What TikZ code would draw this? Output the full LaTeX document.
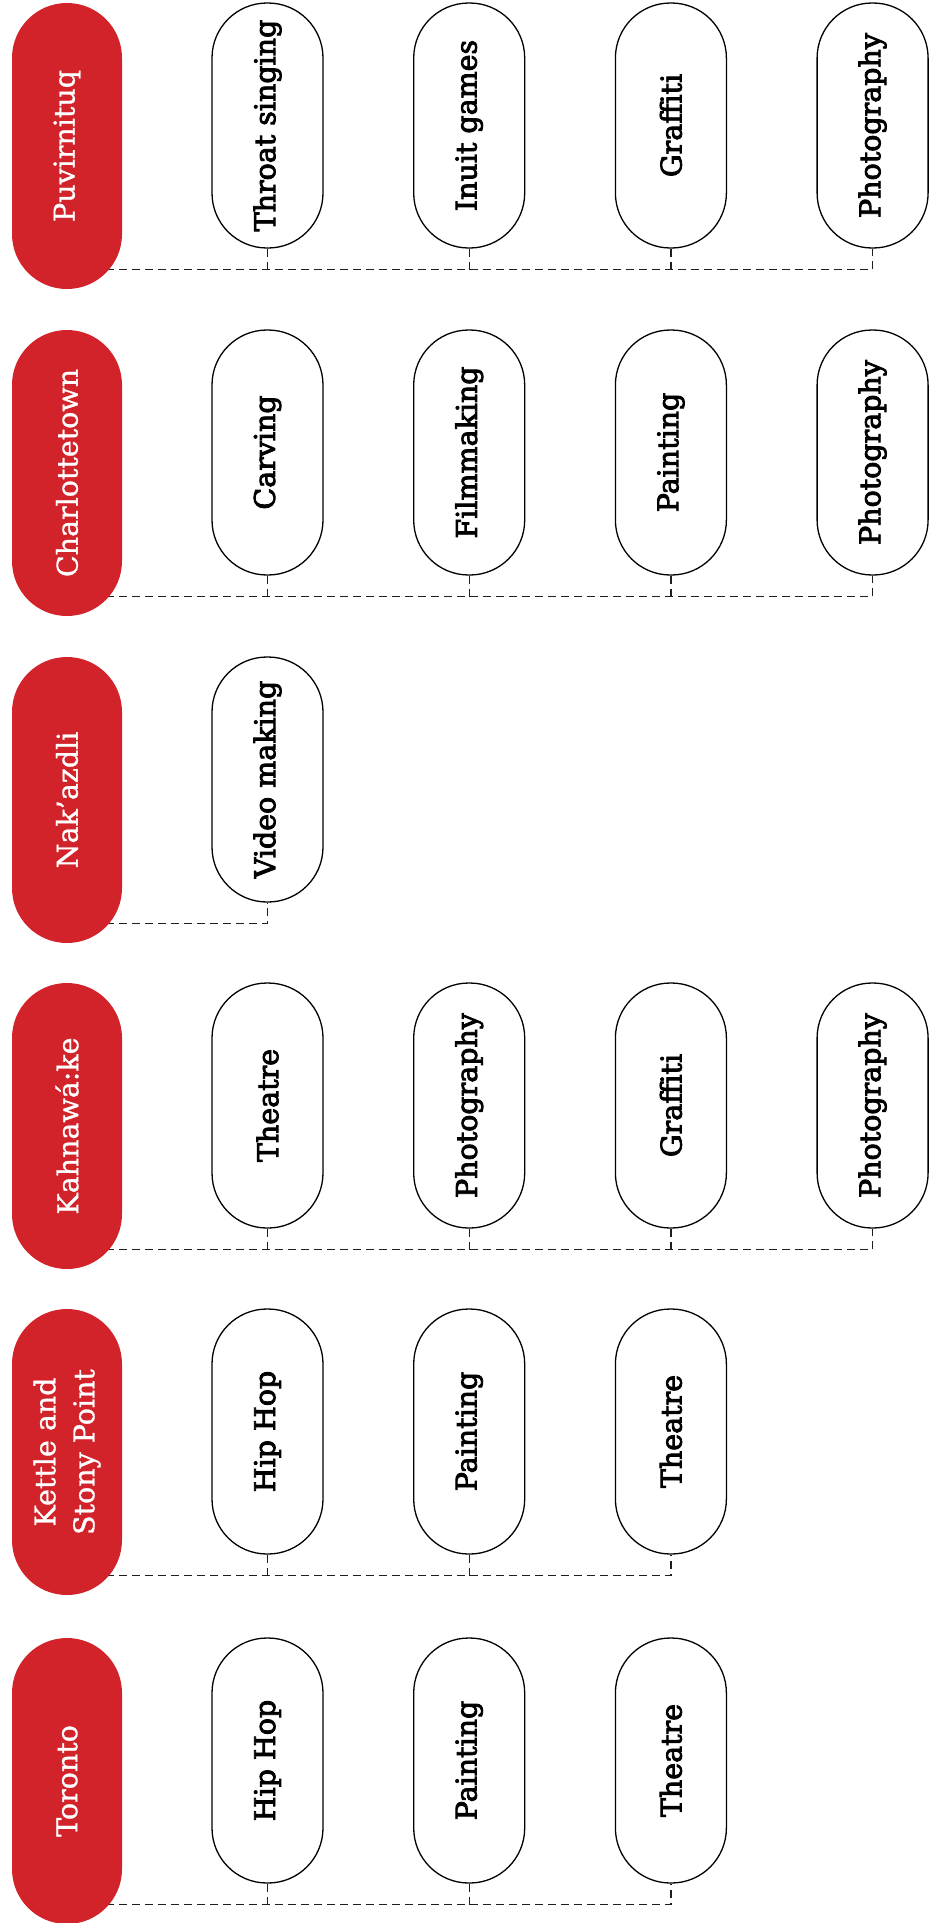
\documentclass[tikz,border=0pt]{standalone}
\usepackage{fontspec}
\setmainfont{DejaVu Serif}
\newfontfamily\boxfont[FakeBold=3]{DejaVu Serif}
\newfontfamily\cityfont[FakeBold=1]{DejaVu Serif}
\usetikzlibrary{calc}
\pgfdeclarelayer{bg}
\pgfsetlayers{bg,main}
\definecolor{cityred}{HTML}{D2232A}
\definecolor{conngray}{HTML}{1E1E1E}
\tikzset{
  city/.style={rectangle, rounded corners=55pt, fill=cityred, text=white,
    minimum width=110pt, minimum height=286pt, inner sep=0pt,
    font=\cityfont\fontsize{28.5}{39}\selectfont},
  act/.style={rectangle, rounded corners=55pt, draw=black, line width=1.3pt, fill=white,
    minimum width=111pt, minimum height=245pt, inner sep=0pt,
    font=\boxfont\fontsize{28.5}{38}\selectfont},
  conn/.style={draw=conngray, line width=1.3pt, dash pattern=on 8pt off 5pt},
}
\begin{document}
\begin{tikzpicture}[x=1pt, y=-1pt]
\useasboundingbox (0,0) rectangle (932,1923);

% Row 1: Puvirnituq
\node[city] (r1) at (67,146) {\rotatebox{90}{Puvirnituq}};
\node[act] (a1-1) at (267.5,125.5) {\rotatebox{90}{Throat singing}};
\node[act] (a1-2) at (469.2,125.5) {\rotatebox{90}{Inuit games}};
\node[act] (a1-3) at (670.9,125.5) {\rotatebox{90}{Graffiti}};
\node[act] (a1-4) at (872.6,125.5) {\rotatebox{90}{Photography}};

% Row 2: Charlottetown
\node[city] (r2) at (67,473) {\rotatebox{90}{Charlottetown}};
\node[act] (a2-1) at (267.5,452.5) {\rotatebox{90}{Carving}};
\node[act] (a2-2) at (469.2,452.5) {\rotatebox{90}{Filmmaking}};
\node[act] (a2-3) at (670.9,452.5) {\rotatebox{90}{Painting}};
\node[act] (a2-4) at (872.6,452.5) {\rotatebox{90}{Photography}};

% Row 3: Nak'azdli
\node[city] (r3) at (67,800) {\rotatebox{90}{Nak’azdli}};
\node[act] (a3-1) at (267.5,779.5) {\rotatebox{90}{Video making}};

% Row 4: Kahnawá:ke
\node[city] (r4) at (67,1126) {\rotatebox{90}{Kahnawá:ke}};
\node[act] (a4-1) at (267.5,1105.5) {\rotatebox{90}{Theatre}};
\node[act] (a4-2) at (469.2,1105.5) {\rotatebox{90}{Photography}};
\node[act] (a4-3) at (670.9,1105.5) {\rotatebox{90}{Graffiti}};
\node[act] (a4-4) at (872.6,1105.5) {\rotatebox{90}{Photography}};

% Row 5: Kettle and Stony Point
\node[city] (r5) at (67,1452) {\rotatebox{90}{\begin{tabular}{@{}c@{}}Kettle and\\Stony Point\end{tabular}}};
\node[act] (a5-1) at (267.5,1431.5) {\rotatebox{90}{Hip Hop}};
\node[act] (a5-2) at (469.2,1431.5) {\rotatebox{90}{Painting}};
\node[act] (a5-3) at (670.9,1431.5) {\rotatebox{90}{Theatre}};

% Row 6: Toronto
\node[city] (r6) at (67,1781) {\rotatebox{90}{Toronto}};
\node[act] (a6-1) at (267.5,1760.5) {\rotatebox{90}{Hip Hop}};
\node[act] (a6-2) at (469.2,1760.5) {\rotatebox{90}{Painting}};
\node[act] (a6-3) at (670.9,1760.5) {\rotatebox{90}{Theatre}};

% junction levels
\coordinate (j1) at ($(a1-1.south)+(0,21)$);
\coordinate (j2) at ($(a2-1.south)+(0,21)$);
\coordinate (j3) at ($(a3-1.south)+(0,21)$);
\coordinate (j4) at ($(a4-1.south)+(0,21)$);
\coordinate (j5) at ($(a5-1.south)+(0,21)$);
\coordinate (j6) at ($(a6-1.south)+(0,21)$);

\begin{pgfonlayer}{bg}
\draw[conn] (r1.center |- j1) -| (a1-4.south);
\foreach \k in {1,2,3} \draw[conn] (a1-\k.south) -- (a1-\k.south |- j1);
\draw[conn] (r2.center |- j2) -| (a2-4.south);
\foreach \k in {1,2,3} \draw[conn] (a2-\k.south) -- (a2-\k.south |- j2);
\draw[conn] (r3.center |- j3) -| (a3-1.south);
\draw[conn] (r4.center |- j4) -| (a4-4.south);
\foreach \k in {1,2,3} \draw[conn] (a4-\k.south) -- (a4-\k.south |- j4);
\draw[conn] (r5.center |- j5) -| (a5-3.south);
\foreach \k in {1,2} \draw[conn] (a5-\k.south) -- (a5-\k.south |- j5);
\draw[conn] (r6.center |- j6) -| (a6-3.south);
\foreach \k in {1,2} \draw[conn] (a6-\k.south) -- (a6-\k.south |- j6);
\end{pgfonlayer}
\end{tikzpicture}
\end{document}
